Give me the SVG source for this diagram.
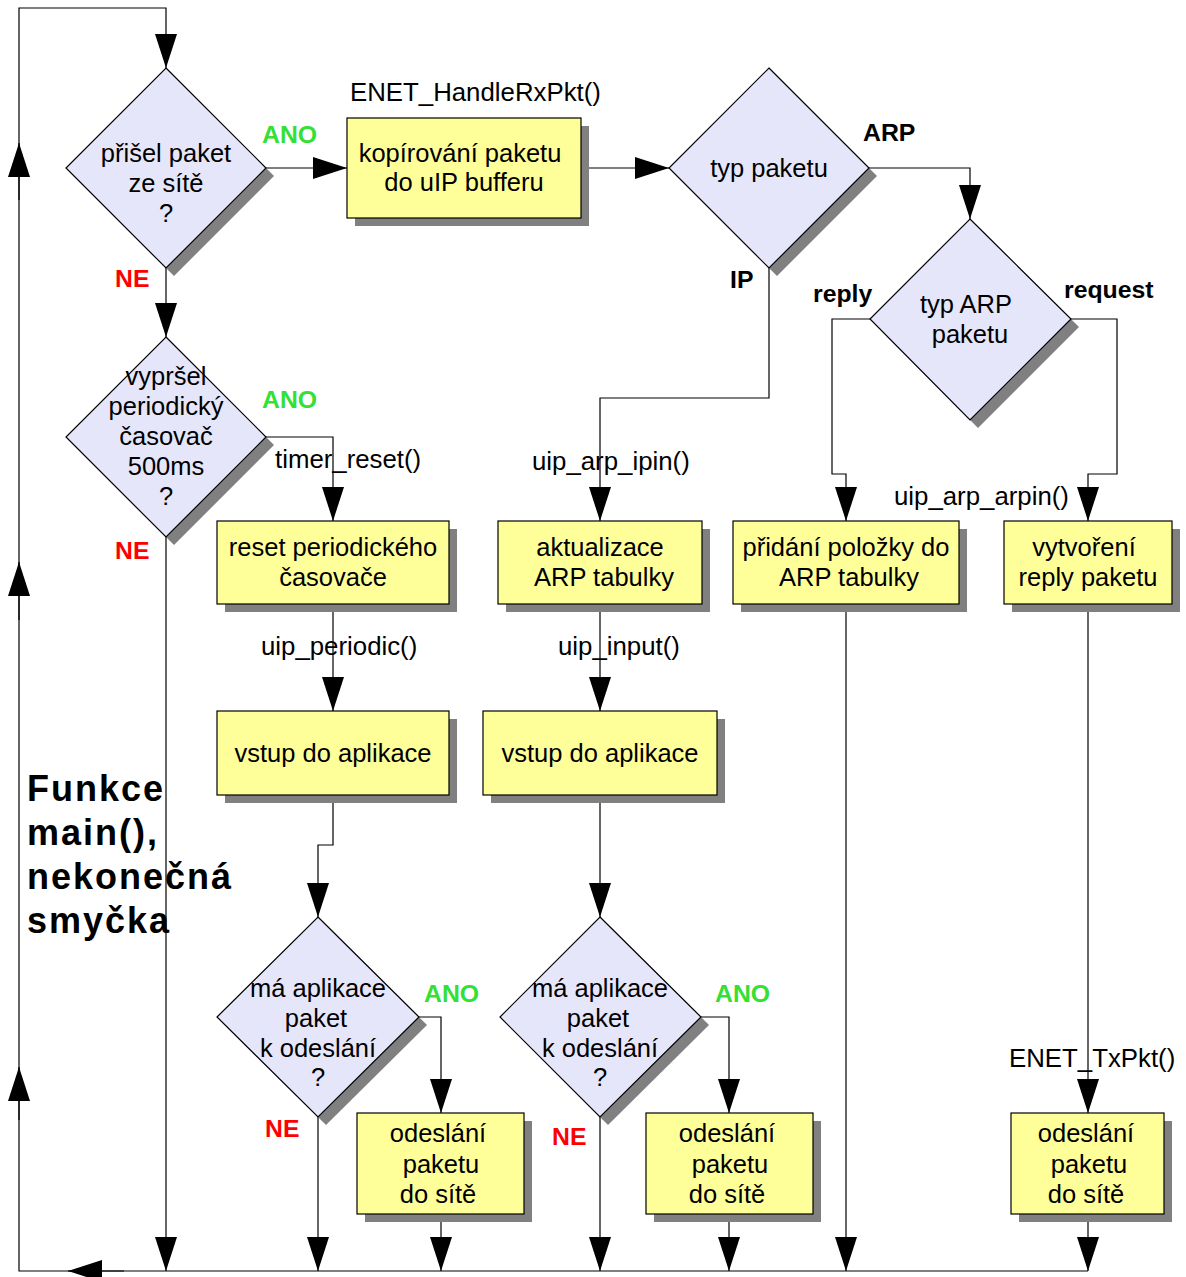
<svg xmlns="http://www.w3.org/2000/svg" width="1186" height="1277" viewBox="0 0 1186 1277">
  <style>
    .ln { fill: none; stroke: #000; stroke-width: 1.2; }
    .arr { marker-end: url(#ah); }
    .box { fill: #ffff99; stroke: #000; stroke-width: 1.2; }
    .dia { fill: #e6e6fa; stroke: #000; stroke-width: 1.2; }
    .sh { fill: #808080; stroke: none; }
    text { font-family: "Liberation Sans", Arial, sans-serif; fill: #000; }
    .t { font-size: 25.5px; text-anchor: middle; }
    .f { font-size: 25.8px; }
    .b { font-size: 24.8px; font-weight: bold; }
    .ano { fill: #33e033; }
    .ne { fill: #ff0000; }
    .title { font-size: 36px; font-weight: bold; letter-spacing: 2px; }
  </style>
  <defs>
    <marker id="ah" markerUnits="userSpaceOnUse" markerWidth="34" markerHeight="22" viewBox="0 0 34 22" refX="34" refY="11" orient="auto">
      <path d="M0,0 L34,11 L0,22 Z" fill="#000"/>
    </marker>
  </defs>

  <!-- connectors -->
  <g id="connectors">
    <!-- main loop back to the start -->
    <path class="ln arr" d="M1088,1271 H19 V8 H166 V68"/>
    <path class="ln arr" d="M19,200 V143"/>
    <path class="ln arr" d="M19,620 V562"/>
    <path class="ln arr" d="M19,1120 V1067"/>
    <path class="ln arr" d="M124,1271 H68"/>

    <path class="ln arr" d="M266,168 H347"/>
    <path class="ln arr" d="M581,168 H669"/>
    <path class="ln arr" d="M869,168 H970 V219"/>
    <path class="ln arr" d="M769,268 V398 H600 V521"/>
    <path class="ln arr" d="M870,319 H832 V474 H846 V521"/>
    <path class="ln arr" d="M1071,319 H1117 V474 H1088 V521"/>

    <path class="ln arr" d="M166,268 V337"/>
    <path class="ln arr" d="M266,437 H333 V521"/>
    <path class="ln arr" d="M166,537 V1271"/>

    <path class="ln arr" d="M333,604 V711"/>
    <path class="ln arr" d="M333,795 V845 H318 V917"/>
    <path class="ln arr" d="M419,1017 H441 V1113"/>
    <path class="ln arr" d="M318,1117 V1271"/>
    <path class="ln arr" d="M441,1214 V1271"/>

    <path class="ln arr" d="M600,604 V711"/>
    <path class="ln arr" d="M600,795 V917"/>
    <path class="ln arr" d="M701,1017 H729 V1113"/>
    <path class="ln arr" d="M600,1117 V1271"/>
    <path class="ln arr" d="M729,1214 V1271"/>

    <path class="ln arr" d="M846,604 V1271"/>
    <path class="ln arr" d="M1088,604 V1113"/>
    <path class="ln arr" d="M1088,1214 V1271"/>
  </g>

  <!-- decisions -->
  <g id="d-prisel">
    <polygon class="sh" points="174,76 274,176 174,276 74,176"/>
    <polygon class="dia" points="166,68 266,168 166,268 66,168"/>
    <text class="t" x="166" y="162">přišel paket</text>
    <text class="t" x="166" y="192">ze sítě</text>
    <text class="t" x="166" y="222">?</text>
  </g>

  <g id="d-typ">
    <polygon class="sh" points="777,76 877,176 777,276 677,176"/>
    <polygon class="dia" points="769,68 869,168 769,268 669,168"/>
    <text class="t" x="769" y="177">typ paketu</text>
  </g>

  <g id="d-arp">
    <polygon class="sh" points="978,227 1079,327 978,428 878,327"/>
    <polygon class="dia" points="970,219 1071,319 970,420 870,319"/>
    <text class="t" x="966" y="313">typ ARP</text>
    <text class="t" x="970" y="343">paketu</text>
  </g>

  <g id="d-casovac">
    <polygon class="sh" points="174,345 274,445 174,545 74,445"/>
    <polygon class="dia" points="166,337 266,437 166,537 66,437"/>
    <text class="t" x="166" y="385">vypršel</text>
    <text class="t" x="166" y="415">periodický</text>
    <text class="t" x="166" y="445">časovač</text>
    <text class="t" x="166" y="475">500ms</text>
    <text class="t" x="166" y="505">?</text>
  </g>

  <g id="d-odeslat1">
    <polygon class="sh" points="326,925 427,1025 326,1125 225,1025"/>
    <polygon class="dia" points="318,917 419,1017 318,1117 217,1017"/>
    <text class="t" x="318" y="997">má aplikace</text>
    <text class="t" x="316" y="1027">paket</text>
    <text class="t" x="318" y="1057">k odeslání</text>
    <text class="t" x="318" y="1086">?</text>
  </g>

  <g id="d-odeslat2">
    <polygon class="sh" points="608,925 709,1025 608,1125 508,1025"/>
    <polygon class="dia" points="600,917 701,1017 600,1117 500,1017"/>
    <text class="t" x="600" y="997">má aplikace</text>
    <text class="t" x="598" y="1027">paket</text>
    <text class="t" x="600" y="1057">k odeslání</text>
    <text class="t" x="600" y="1086">?</text>
  </g>

  <!-- process boxes -->
  <g id="b-kopirovani">
    <rect class="sh" x="355" y="126" width="234" height="100"/>
    <rect class="box" x="347" y="118" width="234" height="100"/>
    <text class="t" x="460" y="162">kopírování paketu</text>
    <text class="t" x="464" y="191">do uIP bufferu</text>
  </g>

  <g id="b-reset">
    <rect class="sh" x="225" y="529" width="232" height="83"/>
    <rect class="box" x="217" y="521" width="232" height="83"/>
    <text class="t" x="333" y="556">reset periodického</text>
    <text class="t" x="333" y="586">časovače</text>
  </g>

  <g id="b-aktualizace">
    <rect class="sh" x="506" y="529" width="204" height="83"/>
    <rect class="box" x="498" y="521" width="204" height="83"/>
    <text class="t" x="600" y="556">aktualizace</text>
    <text class="t" x="604" y="586">ARP tabulky</text>
  </g>

  <g id="b-pridani">
    <rect class="sh" x="741" y="529" width="226" height="83"/>
    <rect class="box" x="733" y="521" width="226" height="83"/>
    <text class="t" x="846" y="556">přidání položky do</text>
    <text class="t" x="849" y="586">ARP tabulky</text>
  </g>

  <g id="b-vytvoreni">
    <rect class="sh" x="1012" y="529" width="168" height="83"/>
    <rect class="box" x="1004" y="521" width="168" height="83"/>
    <text class="t" x="1084" y="556">vytvoření</text>
    <text class="t" x="1088" y="586">reply paketu</text>
  </g>

  <g id="b-vstup1">
    <rect class="sh" x="225" y="719" width="232" height="84"/>
    <rect class="box" x="217" y="711" width="232" height="84"/>
    <text class="t" x="333" y="762">vstup do aplikace</text>
  </g>

  <g id="b-vstup2">
    <rect class="sh" x="491" y="719" width="234" height="84"/>
    <rect class="box" x="483" y="711" width="234" height="84"/>
    <text class="t" x="600" y="762">vstup do aplikace</text>
  </g>

  <g id="b-odeslani1">
    <rect class="sh" x="365" y="1121" width="167" height="101"/>
    <rect class="box" x="357" y="1113" width="167" height="101"/>
    <text class="t" x="438" y="1142">odeslání</text>
    <text class="t" x="441" y="1173">paketu</text>
    <text class="t" x="438" y="1203">do sítě</text>
  </g>

  <g id="b-odeslani2">
    <rect class="sh" x="654" y="1121" width="167" height="101"/>
    <rect class="box" x="646" y="1113" width="167" height="101"/>
    <text class="t" x="727" y="1142">odeslání</text>
    <text class="t" x="730" y="1173">paketu</text>
    <text class="t" x="727" y="1203">do sítě</text>
  </g>

  <g id="b-odeslani3">
    <rect class="sh" x="1019" y="1121" width="153" height="101"/>
    <rect class="box" x="1011" y="1113" width="153" height="101"/>
    <text class="t" x="1086" y="1142">odeslání</text>
    <text class="t" x="1089" y="1173">paketu</text>
    <text class="t" x="1086" y="1203">do sítě</text>
  </g>

  <!-- branch labels -->
  <g id="labels">
    <text class="b ano" x="262" y="143">ANO</text>
    <text class="b ne" x="115" y="287">NE</text>
    <text class="b" x="863" y="141">ARP</text>
    <text class="b" x="730" y="288">IP</text>
    <text class="b" x="813" y="302">reply</text>
    <text class="b" x="1064" y="298">request</text>
    <text class="b ano" x="262" y="408">ANO</text>
    <text class="b ne" x="115" y="559">NE</text>
    <text class="b ano" x="424" y="1002">ANO</text>
    <text class="b ne" x="265" y="1137">NE</text>
    <text class="b ano" x="715" y="1002">ANO</text>
    <text class="b ne" x="552" y="1145">NE</text>
  </g>

  <!-- function calls -->
  <g id="calls">
    <text class="f" x="350" y="101">ENET_HandleRxPkt()</text>
    <text class="f" x="532" y="470">uip_arp_ipin()</text>
    <text class="f" x="894" y="505">uip_arp_arpin()</text>
    <text class="f" x="275" y="468">timer_reset()</text>
    <text class="f" x="261" y="655">uip_periodic()</text>
    <text class="f" x="558" y="655">uip_input()</text>
    <text class="f" x="1009" y="1067">ENET_TxPkt()</text>
  </g>

  <g id="title">
    <text class="title" x="27" y="801">Funkce</text>
    <text class="title" x="27" y="845">main(),</text>
    <text class="title" x="27" y="889">nekonečná</text>
    <text class="title" x="27" y="933">smyčka</text>
  </g>
</svg>
